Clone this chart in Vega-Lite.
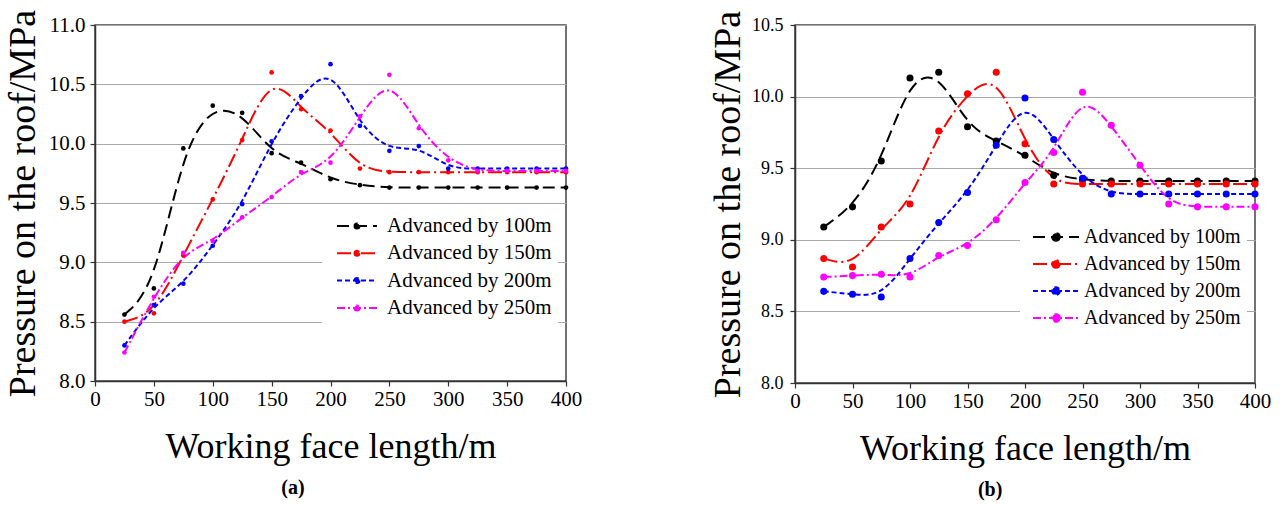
{
  "$schema": "https://vega.github.io/schema/vega-lite/v6.json",
  "padding": {"left": 3, "top": 8, "right": 0, "bottom": 0},
  "background": "white",
  "config": {
    "font": "Liberation Serif",
    "view": {"stroke": "#444444", "strokeWidth": 1.5},
    "axis": {
      "domainColor": "#333333", "domainWidth": 1.5, "tickColor": "#333333", "tickWidth": 1.2,
      "labelColor": "black", "titleColor": "black", "titleFontWeight": "normal",
      "titleFont": "Liberation Serif", "labelFont": "Liberation Serif",
      "labelOverlap": false, "labelFlush": false
    }
  },
  "datasets": {
    "d": [
      {"panel":"a","series":"Advanced by 100m","x":25,"p":8.56},
      {"panel":"a","series":"Advanced by 100m","x":50,"p":8.78},
      {"panel":"a","series":"Advanced by 100m","x":75,"p":9.96},
      {"panel":"a","series":"Advanced by 100m","x":100,"p":10.32},
      {"panel":"a","series":"Advanced by 100m","x":125,"p":10.26},
      {"panel":"a","series":"Advanced by 100m","x":150,"p":9.92},
      {"panel":"a","series":"Advanced by 100m","x":175,"p":9.84},
      {"panel":"a","series":"Advanced by 100m","x":200,"p":9.70},
      {"panel":"a","series":"Advanced by 100m","x":225,"p":9.65},
      {"panel":"a","series":"Advanced by 100m","x":250,"p":9.63},
      {"panel":"a","series":"Advanced by 100m","x":275,"p":9.63},
      {"panel":"a","series":"Advanced by 100m","x":300,"p":9.63},
      {"panel":"a","series":"Advanced by 100m","x":325,"p":9.63},
      {"panel":"a","series":"Advanced by 100m","x":350,"p":9.63},
      {"panel":"a","series":"Advanced by 100m","x":375,"p":9.63},
      {"panel":"a","series":"Advanced by 100m","x":400,"p":9.63},
      {"panel":"a","series":"Advanced by 150m","x":25,"p":8.50},
      {"panel":"a","series":"Advanced by 150m","x":50,"p":8.57},
      {"panel":"a","series":"Advanced by 150m","x":75,"p":9.06},
      {"panel":"a","series":"Advanced by 150m","x":100,"p":9.53},
      {"panel":"a","series":"Advanced by 150m","x":125,"p":10.03},
      {"panel":"a","series":"Advanced by 150m","x":150,"p":10.60},
      {"panel":"a","series":"Advanced by 150m","x":175,"p":10.29},
      {"panel":"a","series":"Advanced by 150m","x":200,"p":10.11},
      {"panel":"a","series":"Advanced by 150m","x":225,"p":9.79},
      {"panel":"a","series":"Advanced by 150m","x":250,"p":9.76},
      {"panel":"a","series":"Advanced by 150m","x":275,"p":9.76},
      {"panel":"a","series":"Advanced by 150m","x":300,"p":9.76},
      {"panel":"a","series":"Advanced by 150m","x":325,"p":9.76},
      {"panel":"a","series":"Advanced by 150m","x":350,"p":9.76},
      {"panel":"a","series":"Advanced by 150m","x":375,"p":9.76},
      {"panel":"a","series":"Advanced by 150m","x":400,"p":9.76},
      {"panel":"a","series":"Advanced by 200m","x":25,"p":8.30},
      {"panel":"a","series":"Advanced by 200m","x":50,"p":8.64},
      {"panel":"a","series":"Advanced by 200m","x":75,"p":8.82},
      {"panel":"a","series":"Advanced by 200m","x":100,"p":9.14},
      {"panel":"a","series":"Advanced by 200m","x":125,"p":9.49},
      {"panel":"a","series":"Advanced by 200m","x":150,"p":10.02},
      {"panel":"a","series":"Advanced by 200m","x":175,"p":10.40},
      {"panel":"a","series":"Advanced by 200m","x":200,"p":10.67},
      {"panel":"a","series":"Advanced by 200m","x":225,"p":10.15},
      {"panel":"a","series":"Advanced by 200m","x":250,"p":9.94},
      {"panel":"a","series":"Advanced by 200m","x":275,"p":9.98},
      {"panel":"a","series":"Advanced by 200m","x":300,"p":9.79},
      {"panel":"a","series":"Advanced by 200m","x":325,"p":9.79},
      {"panel":"a","series":"Advanced by 200m","x":350,"p":9.79},
      {"panel":"a","series":"Advanced by 200m","x":375,"p":9.79},
      {"panel":"a","series":"Advanced by 200m","x":400,"p":9.79},
      {"panel":"a","series":"Advanced by 250m","x":25,"p":8.24},
      {"panel":"a","series":"Advanced by 250m","x":50,"p":8.71},
      {"panel":"a","series":"Advanced by 250m","x":75,"p":9.08},
      {"panel":"a","series":"Advanced by 250m","x":100,"p":9.18},
      {"panel":"a","series":"Advanced by 250m","x":125,"p":9.38},
      {"panel":"a","series":"Advanced by 250m","x":150,"p":9.55},
      {"panel":"a","series":"Advanced by 250m","x":175,"p":9.76},
      {"panel":"a","series":"Advanced by 250m","x":200,"p":9.84},
      {"panel":"a","series":"Advanced by 250m","x":225,"p":10.23},
      {"panel":"a","series":"Advanced by 250m","x":250,"p":10.58},
      {"panel":"a","series":"Advanced by 250m","x":275,"p":10.13},
      {"panel":"a","series":"Advanced by 250m","x":300,"p":9.86},
      {"panel":"a","series":"Advanced by 250m","x":325,"p":9.77},
      {"panel":"a","series":"Advanced by 250m","x":350,"p":9.77},
      {"panel":"a","series":"Advanced by 250m","x":375,"p":9.77},
      {"panel":"a","series":"Advanced by 250m","x":400,"p":9.77},
      {"panel":"b","series":"Advanced by 100m","x":25,"p":9.09},
      {"panel":"b","series":"Advanced by 100m","x":50,"p":9.23},
      {"panel":"b","series":"Advanced by 100m","x":75,"p":9.55},
      {"panel":"b","series":"Advanced by 100m","x":100,"p":10.13},
      {"panel":"b","series":"Advanced by 100m","x":125,"p":10.17},
      {"panel":"b","series":"Advanced by 100m","x":150,"p":9.79},
      {"panel":"b","series":"Advanced by 100m","x":175,"p":9.69},
      {"panel":"b","series":"Advanced by 100m","x":200,"p":9.59},
      {"panel":"b","series":"Advanced by 100m","x":225,"p":9.45},
      {"panel":"b","series":"Advanced by 100m","x":250,"p":9.42},
      {"panel":"b","series":"Advanced by 100m","x":275,"p":9.41},
      {"panel":"b","series":"Advanced by 100m","x":300,"p":9.41},
      {"panel":"b","series":"Advanced by 100m","x":325,"p":9.41},
      {"panel":"b","series":"Advanced by 100m","x":350,"p":9.41},
      {"panel":"b","series":"Advanced by 100m","x":375,"p":9.41},
      {"panel":"b","series":"Advanced by 100m","x":400,"p":9.41},
      {"panel":"b","series":"Advanced by 150m","x":25,"p":8.87},
      {"panel":"b","series":"Advanced by 150m","x":50,"p":8.81},
      {"panel":"b","series":"Advanced by 150m","x":75,"p":9.09},
      {"panel":"b","series":"Advanced by 150m","x":100,"p":9.25},
      {"panel":"b","series":"Advanced by 150m","x":125,"p":9.76},
      {"panel":"b","series":"Advanced by 150m","x":150,"p":10.02},
      {"panel":"b","series":"Advanced by 150m","x":175,"p":10.17},
      {"panel":"b","series":"Advanced by 150m","x":200,"p":9.67},
      {"panel":"b","series":"Advanced by 150m","x":225,"p":9.39},
      {"panel":"b","series":"Advanced by 150m","x":250,"p":9.39},
      {"panel":"b","series":"Advanced by 150m","x":275,"p":9.39},
      {"panel":"b","series":"Advanced by 150m","x":300,"p":9.39},
      {"panel":"b","series":"Advanced by 150m","x":325,"p":9.39},
      {"panel":"b","series":"Advanced by 150m","x":350,"p":9.39},
      {"panel":"b","series":"Advanced by 150m","x":375,"p":9.39},
      {"panel":"b","series":"Advanced by 150m","x":400,"p":9.39},
      {"panel":"b","series":"Advanced by 200m","x":25,"p":8.64},
      {"panel":"b","series":"Advanced by 200m","x":50,"p":8.62},
      {"panel":"b","series":"Advanced by 200m","x":75,"p":8.60},
      {"panel":"b","series":"Advanced by 200m","x":100,"p":8.87},
      {"panel":"b","series":"Advanced by 200m","x":125,"p":9.12},
      {"panel":"b","series":"Advanced by 200m","x":150,"p":9.33},
      {"panel":"b","series":"Advanced by 200m","x":175,"p":9.66},
      {"panel":"b","series":"Advanced by 200m","x":200,"p":9.99},
      {"panel":"b","series":"Advanced by 200m","x":225,"p":9.70},
      {"panel":"b","series":"Advanced by 200m","x":250,"p":9.43},
      {"panel":"b","series":"Advanced by 200m","x":275,"p":9.32},
      {"panel":"b","series":"Advanced by 200m","x":300,"p":9.32},
      {"panel":"b","series":"Advanced by 200m","x":325,"p":9.32},
      {"panel":"b","series":"Advanced by 200m","x":350,"p":9.32},
      {"panel":"b","series":"Advanced by 200m","x":375,"p":9.32},
      {"panel":"b","series":"Advanced by 200m","x":400,"p":9.32},
      {"panel":"b","series":"Advanced by 250m","x":25,"p":8.74},
      {"panel":"b","series":"Advanced by 250m","x":50,"p":8.75},
      {"panel":"b","series":"Advanced by 250m","x":75,"p":8.76},
      {"panel":"b","series":"Advanced by 250m","x":100,"p":8.74},
      {"panel":"b","series":"Advanced by 250m","x":125,"p":8.89},
      {"panel":"b","series":"Advanced by 250m","x":150,"p":8.96},
      {"panel":"b","series":"Advanced by 250m","x":175,"p":9.14},
      {"panel":"b","series":"Advanced by 250m","x":200,"p":9.40},
      {"panel":"b","series":"Advanced by 250m","x":225,"p":9.61},
      {"panel":"b","series":"Advanced by 250m","x":250,"p":10.03},
      {"panel":"b","series":"Advanced by 250m","x":275,"p":9.80},
      {"panel":"b","series":"Advanced by 250m","x":300,"p":9.52},
      {"panel":"b","series":"Advanced by 250m","x":325,"p":9.25},
      {"panel":"b","series":"Advanced by 250m","x":350,"p":9.23},
      {"panel":"b","series":"Advanced by 250m","x":375,"p":9.23},
      {"panel":"b","series":"Advanced by 250m","x":400,"p":9.23}
    ]
  },
  "spacing": 125,
  "resolve": {
    "scale": {"color": "independent", "strokeDash": "independent", "y": "independent", "x": "independent"},
    "legend": {"color": "independent", "strokeDash": "independent"}
  },
  "hconcat": [
    {
      "width": 471, "height": 356,
      "data": {"name": "d"},
      "transform": [{"filter": "datum.panel == 'a'"}],
      "title": {"text": "(a)", "orient": "bottom", "anchor": "middle", "frame": "bounds", "fontSize": 20, "fontWeight": "bold", "offset": 14, "font": "Liberation Serif", "color": "black"},
      "layer": [
        {
          "mark": {"type": "line", "interpolate": "basis", "strokeWidth": 2},
          "encoding": {
            "x": {"field": "x", "type": "quantitative", "scale": {"domain": [0, 400], "nice": false},
              "axis": {"title": "Working face length/m", "titleFontSize": 36, "titlePadding": 20, "labelFontSize": 21, "labelPadding": 2, "labelFont": "Liberation Serif",
                "values": [0,25,50,75,100,125,150,175,200,225,250,275,300,325,350,375,400],
                "labelExpr": "datum.value % 50 == 0 ? datum.label : ''",
                "tickSize": {"condition": {"test": "datum.value % 50 != 0", "value": 3}, "value": 5},
                "grid": false}},
            "y": {"field": "p", "type": "quantitative", "scale": {"domain": [8, 11], "nice": false, "zero": false},
              "axis": {"title": "Pressure on the roof/MPa", "titleFontSize": 38, "titlePadding": 6, "labelFontSize": 21, "labelPadding": 5, "labelFont": "Liberation Serif",
                "values": [8,8.25,8.5,8.75,9,9.25,9.5,9.75,10,10.25,10.5,10.75,11],
                "labelExpr": "datum.value * 2 == round(datum.value * 2) ? format(datum.value, '.1f') : ''",
                "tickSize": {"condition": {"test": "datum.value * 2 != round(datum.value * 2)", "value": 3}, "value": 5},
                "grid": true,
                "gridColor": {"condition": {"test": "datum.value * 2 != round(datum.value * 2)", "value": "#d0d0d0"}, "value": "#a8a8a8"},
                "gridDash": {"condition": {"test": "datum.value * 2 != round(datum.value * 2)", "value": [2, 2]}, "value": []},
                "gridWidth": 1}},
            "color": {"field": "series", "type": "nominal",
              "scale": {"domain": ["Advanced by 100m","Advanced by 150m","Advanced by 200m","Advanced by 250m"], "range": ["#000000","#ff0000","#0000ff","#ff00ff"]},
              "legend": {"orient": "none", "legendX": 227, "legendY": 184, "title": null, "fillColor": "white", "padding": 6,
                "labelFontSize": 21, "labelColor": "black", "labelFont": "Liberation Serif", "labelLimit": 400,
                "symbolType": "M-2,0H2M0.25,0A0.25,0.25,0,1,1,-0.25,0A0.25,0.25,0,1,1,0.25,0",
                "symbolSize": 400, "symbolStrokeWidth": 2, "symbolOffset": 18, "labelOffset": 19, "rowPadding": 6.3,
                "encode": {"symbols": {"update": {"fill": {"signal": "datum.value=='Advanced by 100m'?'#000000':datum.value=='Advanced by 150m'?'#ff0000':datum.value=='Advanced by 200m'?'#0000ff':'#ff00ff'"}}}}}},
            "strokeDash": {"field": "series", "type": "nominal",
              "scale": {"domain": ["Advanced by 100m","Advanced by 150m","Advanced by 200m","Advanced by 250m"], "range": [[12,6],[14,4,2,4],[5,3],[8,3,2,3]]},
              "legend": {"orient": "none", "legendX": 227, "legendY": 184, "title": null, "fillColor": "white", "padding": 6,
                "labelFontSize": 21, "labelColor": "black", "labelFont": "Liberation Serif", "labelLimit": 400,
                "symbolType": "M-2,0H2M0.25,0A0.25,0.25,0,1,1,-0.25,0A0.25,0.25,0,1,1,0.25,0",
                "symbolSize": 400, "symbolStrokeWidth": 2, "symbolOffset": 18, "labelOffset": 19, "rowPadding": 6.3}}
          }
        },
        {
          "mark": {"type": "point", "filled": true, "size": 22, "opacity": 1},
          "encoding": {
            "x": {"field": "x", "type": "quantitative"},
            "y": {"field": "p", "type": "quantitative"},
            "color": {"field": "series", "type": "nominal"}
          }
        }
      ]
    },
    {
      "width": 460, "height": 358,
      "data": {"name": "d"},
      "transform": [{"filter": "datum.panel == 'b'"}],
      "title": {"text": "(b)", "orient": "bottom", "anchor": "middle", "frame": "bounds", "fontSize": 20, "fontWeight": "bold", "offset": 14, "font": "Liberation Serif", "color": "black"},
      "layer": [
        {
          "mark": {"type": "line", "interpolate": "basis", "strokeWidth": 2},
          "encoding": {
            "x": {"field": "x", "type": "quantitative", "scale": {"domain": [0, 400], "nice": false},
              "axis": {"title": "Working face length/m", "titleFontSize": 36, "titlePadding": 20, "labelFontSize": 21, "labelPadding": 2, "labelFont": "Liberation Serif",
                "values": [0,25,50,75,100,125,150,175,200,225,250,275,300,325,350,375,400],
                "labelExpr": "datum.value % 50 == 0 ? datum.label : ''",
                "tickSize": {"condition": {"test": "datum.value % 50 != 0", "value": 3}, "value": 5},
                "grid": false}},
            "y": {"field": "p", "type": "quantitative", "scale": {"domain": [8, 10.5], "nice": false, "zero": false},
              "axis": {"title": "Pressure on the roof/MPa", "titleFontSize": 38, "titlePadding": 4, "labelFontSize": 18, "labelPadding": 7, "labelFont": "Liberation Serif",
                "values": [8,8.25,8.5,8.75,9,9.25,9.5,9.75,10,10.25,10.5],
                "labelExpr": "datum.value * 2 == round(datum.value * 2) ? format(datum.value, '.1f') : ''",
                "tickSize": {"condition": {"test": "datum.value * 2 != round(datum.value * 2)", "value": 3}, "value": 5},
                "grid": true,
                "gridColor": {"condition": {"test": "datum.value * 2 != round(datum.value * 2)", "value": "#d0d0d0"}, "value": "#a8a8a8"},
                "gridDash": {"condition": {"test": "datum.value * 2 != round(datum.value * 2)", "value": [2, 2]}, "value": []},
                "gridWidth": 1}},
            "color": {"field": "series", "type": "nominal",
              "scale": {"domain": ["Advanced by 100m","Advanced by 150m","Advanced by 200m","Advanced by 250m"], "range": ["#000000","#ff0000","#0000ff","#ff00ff"]},
              "legend": {"orient": "none", "legendX": 225, "legendY": 195, "title": null, "fillColor": "white", "padding": 6,
                "labelFontSize": 20, "labelColor": "black", "labelFont": "Liberation Serif", "labelLimit": 400,
                "symbolType": "M-2.3,0H2.3M0.38,0A0.38,0.38,0,1,1,-0.38,0A0.38,0.38,0,1,1,0.38,0",
                "symbolSize": 400, "symbolStrokeWidth": 2, "symbolOffset": 19, "labelOffset": 17, "rowPadding": 6,
                "encode": {"symbols": {"update": {"fill": {"signal": "datum.value=='Advanced by 100m'?'#000000':datum.value=='Advanced by 150m'?'#ff0000':datum.value=='Advanced by 200m'?'#0000ff':'#ff00ff'"}}}}}},
            "strokeDash": {"field": "series", "type": "nominal",
              "scale": {"domain": ["Advanced by 100m","Advanced by 150m","Advanced by 200m","Advanced by 250m"], "range": [[12,6],[14,4,2,4],[5,3],[8,3,2,3]]},
              "legend": {"orient": "none", "legendX": 225, "legendY": 195, "title": null, "fillColor": "white", "padding": 6,
                "labelFontSize": 20, "labelColor": "black", "labelFont": "Liberation Serif", "labelLimit": 400,
                "symbolType": "M-2.3,0H2.3M0.38,0A0.38,0.38,0,1,1,-0.38,0A0.38,0.38,0,1,1,0.38,0",
                "symbolSize": 400, "symbolStrokeWidth": 2, "symbolOffset": 19, "labelOffset": 17, "rowPadding": 6}}
          }
        },
        {
          "mark": {"type": "point", "filled": true, "size": 50, "opacity": 1},
          "encoding": {
            "x": {"field": "x", "type": "quantitative"},
            "y": {"field": "p", "type": "quantitative"},
            "color": {"field": "series", "type": "nominal"}
          }
        }
      ]
    }
  ]
}
